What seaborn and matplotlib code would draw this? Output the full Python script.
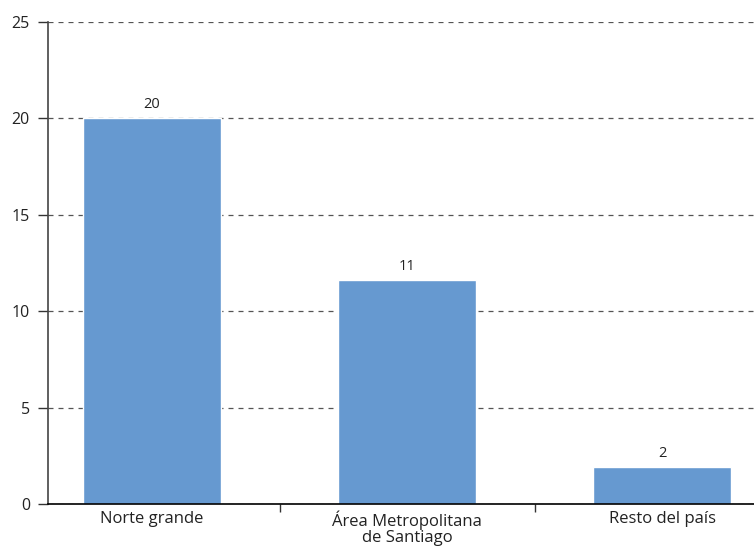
import matplotlib
matplotlib.use("Agg")
import matplotlib.pyplot as plt
import seaborn as sns
import pandas as pd

# Data
categories = ["Norte grande", "Área Metropolitana\nde Santiago", "Resto del país"]
values = [20.0, 11.6, 1.9]
bar_labels = ["20", "11", "2"]
y_ticks = [0, 5, 10, 15, 20, 25]

df = pd.DataFrame({"region": categories, "valor": values})

sns.set_style("white")
plt.rcParams["font.family"] = ["Open Sans", "DejaVu Sans"]

fig = plt.figure(figsize=(7.54, 5.54), dpi=100)
ax = fig.add_axes([48 / 754, 50 / 554, 1 - 48 / 754, 482 / 554])

sns.barplot(data=df, x="region", y="valor", color="#6699D0", width=0.54,
            saturation=1, ax=ax, zorder=3)

for i, (v, lab) in enumerate(zip(values, bar_labels)):
    ax.text(i, v + 0.35, lab, ha="center", va="bottom", fontsize=10.5, color="#222222")

ax.set_ylim(0, 25)
ax.set_xlim(-0.408, 2.36)
ax.set_yticks(y_ticks)
ax.set_yticklabels([str(t) for t in y_ticks], fontsize=11.5, color="#222222")
ax.tick_params(axis="y", direction="out", length=7, width=1, color="#333333", left=True, pad=6)
ax.tick_params(axis="x", length=0, labelsize=12, labelcolor="#222222", pad=5)
for t in ax.get_xticklabels():
    t.set_linespacing(0.95)
ax.set_xticks([0.5, 1.5], minor=True)
ax.tick_params(axis="x", which="minor", direction="out", length=6, width=1, color="#333333", bottom=True)

ax.yaxis.grid(True, linestyle=(0, (4, 4)), color="#555555", linewidth=0.9, zorder=0)
ax.set_axisbelow(True)

ax.set_xlabel("")
ax.set_ylabel("")
ax.spines["top"].set_visible(False)
ax.spines["right"].set_visible(False)
ax.spines["left"].set_color("#444444")
ax.spines["left"].set_linewidth(1.2)
ax.spines["bottom"].set_color("#000000")
ax.spines["bottom"].set_linewidth(1.2)
ax.spines["bottom"].set_zorder(5)

fig.savefig("out.png", dpi=100)
